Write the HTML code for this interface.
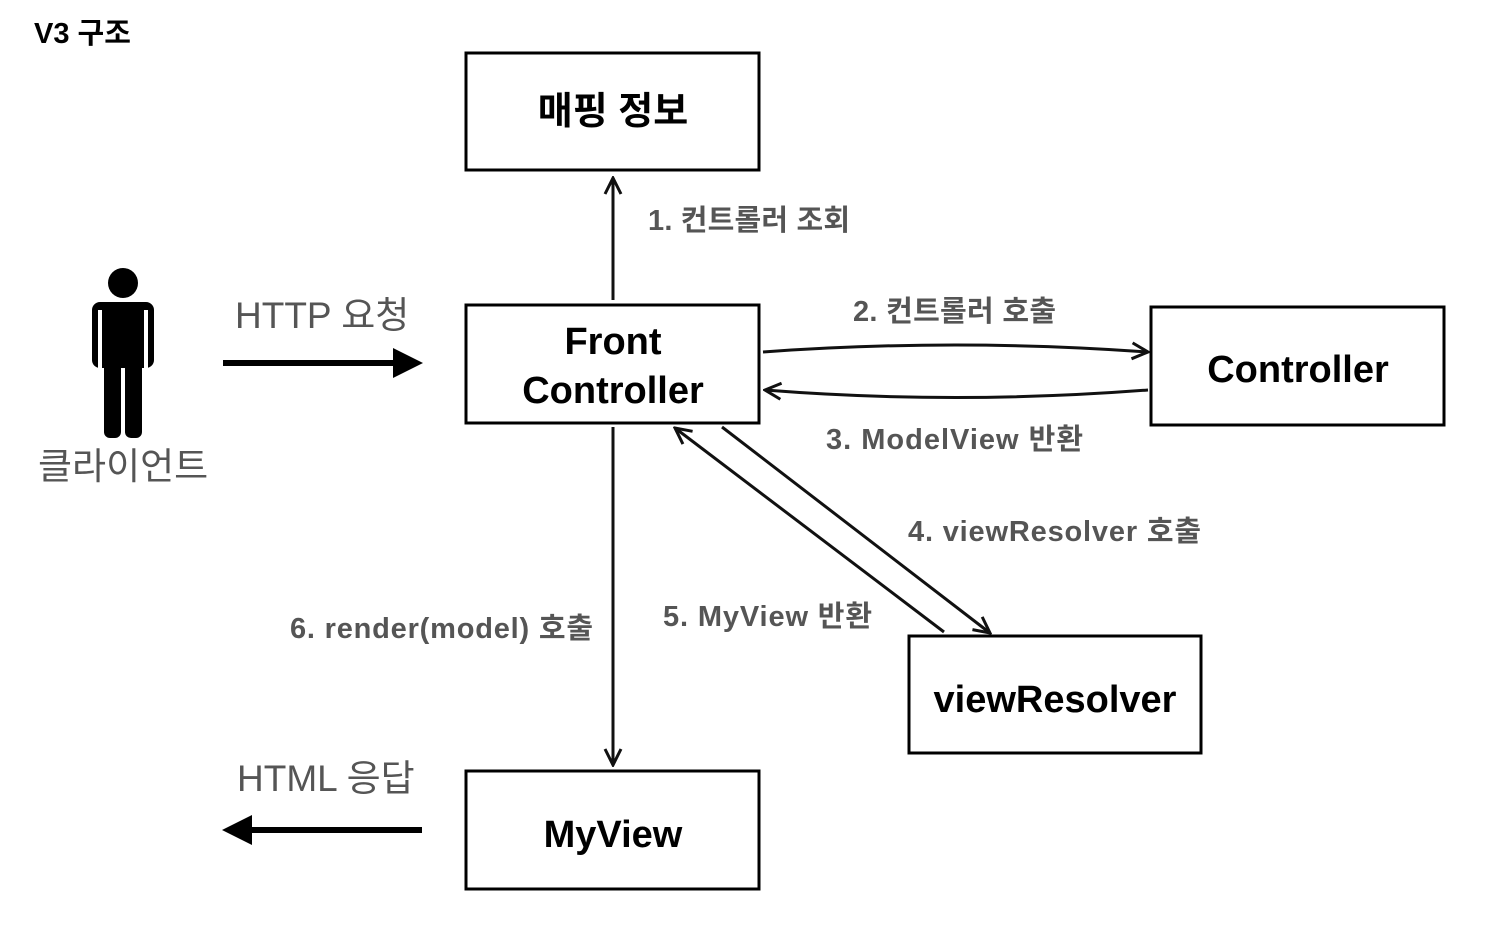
<!DOCTYPE html>
<html><head><meta charset="utf-8"><style>
body{margin:0;background:#fff;width:1492px;height:940px;overflow:hidden;font-family:"Liberation Sans","Noto Sans CJK KR",sans-serif}
</style></head><body>
<svg width="1492" height="940" xmlns="http://www.w3.org/2000/svg" font-family="Liberation Sans, Noto Sans CJK KR, sans-serif">
<defs>
<marker id="a" markerWidth="20" markerHeight="20" refX="18" refY="10" orient="auto" markerUnits="userSpaceOnUse" viewBox="0 0 20 20">
<path d="M2,2 L18,10 L2,18" fill="none" stroke="#111" stroke-width="3"/></marker>
</defs>
<text x="34" y="43" font-size="29" font-weight="bold" fill="#000">V3 구조</text>
<g fill="#fff" stroke="#000" stroke-width="3">
<rect x="466" y="53" width="293" height="117"/>
<rect x="466" y="305" width="293" height="118"/>
<rect x="1151" y="307" width="293" height="118"/>
<rect x="909" y="636" width="292" height="117"/>
<rect x="466" y="771" width="293" height="118"/>
</g>
<g font-size="38" fill="#000" text-anchor="middle" font-weight="bold">
<text x="613" y="124">매핑 정보</text>
<text x="613" y="354">Front</text>
<text x="613" y="403">Controller</text>
<text x="1298" y="382">Controller</text>
<text x="1055" y="712">viewResolver</text>
<text x="613" y="847">MyView</text>
</g>
<!-- person -->
<g fill="#000">
<circle cx="123" cy="283" r="15"/>
<rect x="92" y="302" width="62" height="66" rx="8"/>
<rect x="104" y="340" width="17" height="98" rx="6"/>
<rect x="125" y="340" width="17" height="98" rx="6"/>
</g>
<rect x="98" y="310" width="4" height="58" fill="#fff"/>
<rect x="144" y="310" width="4" height="58" fill="#fff"/>
<g font-size="37" fill="#555">
<text x="38" y="479">클라이언트</text>
<text x="235" y="328">HTTP 요청</text>
<text x="237" y="791">HTML 응답</text>
</g>
<line x1="223" y1="363" x2="395" y2="363" stroke="#000" stroke-width="6"/>
<polygon points="393,348 423,363 393,378" fill="#000"/>
<line x1="422" y1="830" x2="250" y2="830" stroke="#000" stroke-width="6"/>
<polygon points="252,815 222,830 252,845" fill="#000"/>
<g stroke="#111" stroke-width="3" fill="none" marker-end="url(#a)">
<line x1="613" y1="300" x2="613" y2="178"/>
<path d="M763,352 Q955,338 1148,352"/>
<path d="M1148,390 Q955,405 765,390"/>
<line x1="722" y1="427" x2="990" y2="633"/>
<line x1="944" y1="632" x2="675" y2="428"/>
<line x1="613" y1="427" x2="613" y2="765"/>
</g>
<g font-size="29" font-weight="bold" fill="#555">
<text x="648" y="230" textLength="202">1. 컨트롤러 조회</text>
<text x="853" y="321" textLength="203">2. 컨트롤러 호출</text>
<text x="826" y="449" textLength="257">3. ModelView 반환</text>
<text x="908" y="541" textLength="293">4. viewResolver 호출</text>
<text x="663" y="626" textLength="209">5. MyView 반환</text>
<text x="290" y="638" textLength="303">6. render(model) 호출</text>
</g>
</svg>
</body></html>
